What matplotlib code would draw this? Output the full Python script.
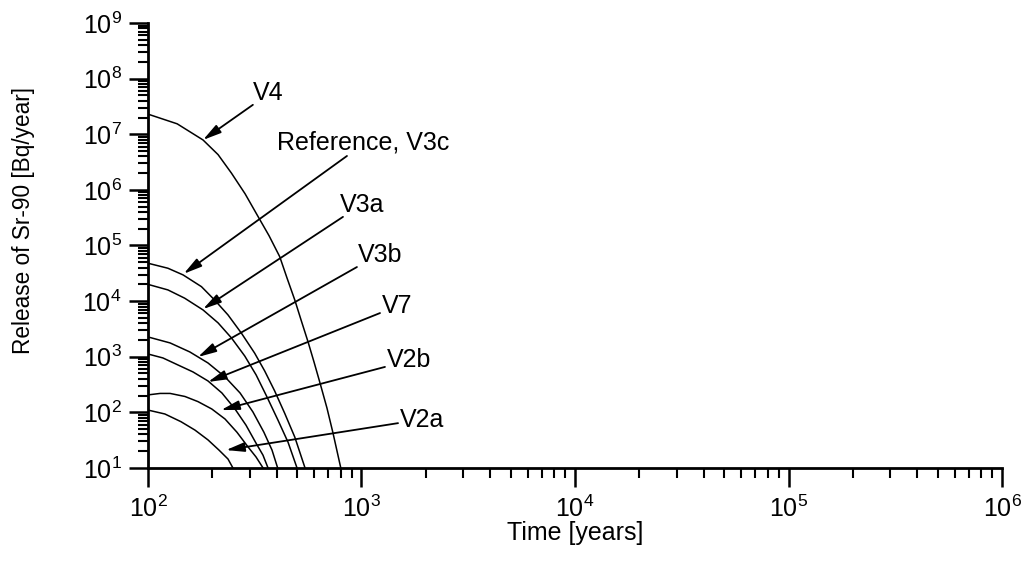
import matplotlib
matplotlib.use("Agg")
import matplotlib.pyplot as plt
from matplotlib.ticker import LogLocator, NullFormatter

plt.rcParams["font.family"] = ["Liberation Sans", "DejaVu Sans"]
plt.rcParams["mathtext.fontset"] = "custom"
plt.rcParams["mathtext.rm"] = "Liberation Sans"
plt.rcParams["mathtext.it"] = "Liberation Sans:italic"
plt.rcParams["mathtext.bf"] = "Liberation Sans:bold"

# time [years], release [Bq/year]
t_v4 = [100, 137, 181, 213, 246, 285, 328, 369, 414, 448, 487, 521, 562, 599, 639, 689, 735, 800]
r_v4 = [2.3e7, 1.54e7, 7.9e6, 4.3e6, 2.0e6, 8.5e5, 3.3e5, 1.5e5, 6.3e4, 2.6e4, 1.05e4,
        4.6e3, 1.85e3, 810, 340, 120, 43, 10]

t_ref = [100, 124, 146, 178, 205, 237, 274, 316, 352, 392, 437, 487, 544]
r_ref = [4.8e4, 3.9e4, 2.96e4, 1.82e4, 1.05e4, 5.65e3, 2.65e3, 1.16e3, 556, 243, 96, 36, 10]

t_v3a = [100, 124, 148.5, 181, 213, 246, 284, 321, 361, 406, 453, 499]
r_v3a = [2.0e4, 1.59e4, 1.13e4, 6.95e3, 4.06e3, 2.18e3, 1.03e3, 471, 189, 73, 29, 10]

t_v3b = [100, 127, 157, 191, 229.5, 270, 310, 349, 381, 405]
r_v3b = [2.27e3, 1.77e3, 1.22e3, 773, 434, 223, 102, 44, 21, 10]

t_v7 = [100, 117.5, 138, 162.5, 191, 222, 255.6, 287.7, 320.6, 345.7, 365]
r_v7 = [1.12e3, 951, 713, 533, 367, 223, 115, 59, 28, 17, 10]

t_v2b = [100, 114, 127, 149, 171.5, 199, 229.5, 261, 294, 320.6, 346]
r_v2b = [206, 219, 219, 193, 156, 115, 76, 44, 24, 15.8, 10]

t_v2a = [100, 120, 142.7, 166, 191, 215, 237, 250]
r_v2a = [110, 93.5, 68, 48, 32, 21, 14.5, 10]

curves = [(t_v4, r_v4), (t_ref, r_ref), (t_v3a, r_v3a), (t_v3b, r_v3b),
          (t_v7, r_v7), (t_v2b, r_v2b), (t_v2a, r_v2a)]

# labels: text, text anchor (t, R), arrow tail (t, R), arrow tip (t, R)
labels = ["V4", "Reference, V3c", "V3a", "V3b", "V7", "V2b", "V2a"]
text_pos = [(310, 4.2e7), (402, 5.25e6), (793, 4.0e5), (963, 5.1e4),
            (1247, 6.1e3), (1316, 656), (1515, 54.6)]
tails = [(310, 3.38e7), (855, 4.07e6), (819, 3.27e5), (952, 4.1e4),
         (1221, 6.1e3), (1288, 656), (1483, 64)]
tips = [(181, 7.9e6), (147, 3.1e4), (181, 7.2e3), (171.5, 990),
        (191, 352), (220, 110), (232, 21)]

fig = plt.figure(figsize=(10.29, 5.61), dpi=100)
ax = fig.add_axes([0.1438, 0.1658, 0.83, 0.7932])

for t, r in curves:
    ax.plot(t, r, color="black", lw=1.1)

for lab, tp, tl, tip in zip(labels, text_pos, tails, tips):
    ax.annotate("", xy=tip, xytext=tl,
                arrowprops=dict(arrowstyle="-|>,head_length=0.55,head_width=0.14",
                                color="black", lw=1.3, mutation_scale=20,
                                shrinkA=0, shrinkB=0))
    ax.text(tp[0], tp[1], lab, fontsize=18, ha="left", va="baseline")

ax.set_xscale("log")
ax.set_yscale("log")
ax.set_xlim(1e2, 1e6)
ax.set_ylim(1e1, 1e9)

ax.xaxis.set_major_locator(LogLocator(base=10, numticks=10))
ax.xaxis.set_minor_locator(LogLocator(base=10, subs=range(2, 10), numticks=50))
ax.yaxis.set_major_locator(LogLocator(base=10, numticks=12))
ax.yaxis.set_minor_locator(LogLocator(base=10, subs=range(2, 10), numticks=100))
ax.xaxis.set_minor_formatter(NullFormatter())
ax.yaxis.set_minor_formatter(NullFormatter())

ax.spines["top"].set_visible(False)
ax.spines["right"].set_visible(False)
ax.spines["left"].set_linewidth(2)
ax.spines["bottom"].set_linewidth(2)

ax.tick_params(which="major", direction="out", length=14, width=1.8,
               labelsize=18)
ax.tick_params(axis="x", which="major", pad=6)
ax.tick_params(axis="y", which="major", pad=5)
ax.tick_params(which="minor", direction="out", length=7, width=1.5)

ax.set_xlabel("Time [years]", fontsize=18, labelpad=-1)
ax.set_ylabel("Release of Sr-90 [Bq/year]", fontsize=16.3)
ax.yaxis.set_label_coords(-0.132, 0.557)

fig.savefig("out.png", dpi=100)
